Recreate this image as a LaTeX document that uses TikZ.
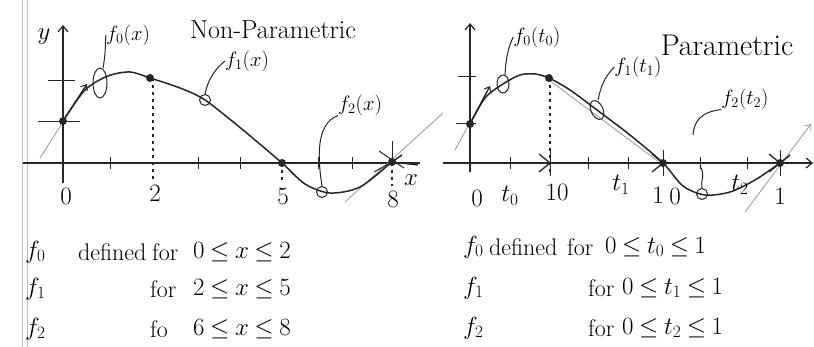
\documentclass[tikz,border=0pt]{standalone}
\usetikzlibrary{arrows.meta}
\begin{document}
\begin{tikzpicture}[x=1pt,y=-1pt,
  ax/.style={line width=1.3pt, black!85},
  tk/.style={line width=1pt, black!85},
  crv/.style={line width=1.5pt, black!85},
  dot/.style={circle, fill=black!85, inner sep=0pt, minimum size=8pt},
  mk/.style={circle, draw=black!85, line width=1pt, inner sep=0pt, minimum size=11pt},
  lead/.style={line width=1pt, black!85},
  tang/.style={line width=0.8pt, black!40},
  dsh/.style={line width=1.2pt, black!85, dash pattern=on 3pt off 4pt},
  lbl/.style={font=\fontsize{21}{23}\selectfont, inner sep=0pt},
  num/.style={font=\fontsize{25}{27}\selectfont, inner sep=0pt},
  txt/.style={font={\fontsize{24}{26}\selectfont\thickmuskip=4mu plus 2mu\relax}, inner sep=0pt, anchor=west},
  barb/.style={-{Straight Barb[length=6pt,width=10pt,line width=1.2pt]}}
]
\useasboundingbox (0,0) rectangle (814,347);
\fill[white] (0,0) rectangle (814,347);
% notebook margin
\draw[black!25, line width=0.6pt] (22,0) -- (22,347);
\draw[black!25, line width=0.6pt] (27,0) -- (27,347);

%================ LEFT: Non-Parametric ================
\coordinate (Lyb) at (63,183);
\coordinate (Lyt) at (63,25);
\coordinate (Lxa) at (23,163);
\coordinate (Lxb) at (420,163);
\draw[ax,barb] (Lyb) -- (Lyt);
\draw[ax] (Lxa) -- (Lxb);
\foreach \x in {110,198,240,318,352} \draw[tk] (\x,157) -- (\x,169);
\draw[tk] (48,81) -- (75,81);
\draw[tk] (38,122) -- (80,122);
\draw[dsh] (153,78) -- (153,182);
\draw[dsh] (282,163) -- (282,180);
\draw[dsh] (392,163) -- (392,186);

% tangents
\coordinate (Lt0) at (40,158);
\coordinate (Lt1) at (87,84);
\coordinate (Le0) at (345,202);
\coordinate (Le1) at (443,113);
\draw[tang] (Lt0) -- (Lt1);
\draw[tang] (Le0) -- (Le1);

\draw[crv] plot[smooth, tension=0.5] coordinates {(63,121) (85,90) (108,76) (130,72) (150,78) (180,88) (205,100) (243,130) (282,163) (305,184) (330,193) (360,187) (392,162) (402,155)};

\node[dot] (L0) at (63,121) {};
\node[dot] (L2) at (150,78) {};
\node[dot] (L5) at (282,163) {};
\node[dot] (L8) at (392,162) {};
\draw[ax,-{Straight Barb[length=5pt,width=8pt,line width=1pt]}] (L0) -- (Lt1);
% star strokes at L8
\draw[tk] (392,141) -- (392,166);
\draw[tk] (379,151) -- (404,168);
\draw[tk] (374,172) -- (L8);
\draw[ax] (L8) -- (418,165);

% markers and labels
\draw[lead] (100,83) ellipse [x radius=7, y radius=15];
\node[lbl] (f0x) at (128,35) {$f_0(x)$};
\draw[lead] (103,68) .. controls (106,52) and (105,44) .. (f0x.west);

\node[mk] (m1) at (205,100) {};
\node[lbl] (f1x) at (247,61) {$f_1(x)$};
\draw[lead] (m1.north) .. controls (208,80) and (214,70) .. (f1x.west);

\node[mk] (m2) at (322,192) {};
\node[lbl] (f2x) at (360,105) {$f_2(x)$};
\draw[lead] (m2.north) .. controls (318,160) and (315,124) .. (f2x.south west);

\node[lbl, font=\fontsize{26}{28}\selectfont] (npar) at (273,30) {Non-Parametric};
\node[lbl, font=\fontsize{26}{28}\selectfont] (ly) at (44,37) {$y$};
\node[lbl, font=\fontsize{24}{26}\selectfont] (lx) at (411,180) {$x$};
\node[num] (n0) at (66,196) {0};
\node[num] (n2) at (155,193) {2};
\node[num] (n5) at (283,196) {5};
\node[num] (n8) at (393,199) {8};

%================ RIGHT: Parametric ================
\coordinate (Ryb) at (470,172);
\coordinate (Ryt) at (470,23);
\coordinate (Rxa) at (443,163);
\coordinate (Rxb) at (813,163);
\draw[ax,barb] (Ryb) -- (Ryt);
\draw[ax,barb] (Rxa) -- (Rxb);
\foreach \x in {510,588,628,700,747} \draw[tk] (\x,157) -- (\x,169);
\draw[tk] (458,77) -- (476,77);
\draw[tk] (456,124) -- (476,124);
\draw[dsh] (550,78) -- (550,172);
% segment end marks
\foreach \x in {550,663,780} {
  \draw[ax] (\x-11,154) -- (\x,163) -- (\x-11,172);
  \draw[tk] (\x,150) -- (\x,176);
}

% tangents and chord
\coordinate (Rt0) at (455,150);
\coordinate (Rt1) at (490,86);
\coordinate (Re0) at (745,212);
\coordinate (Re1) at (811,124);
\draw[tang] (Rt0) -- (Rt1);
\draw[tang,-{Straight Barb[length=5pt,width=8pt]}] (Re0) -- (Re1);
\draw[tang] (549,80) -- (663,165);

\draw[crv] plot[smooth, tension=0.5] coordinates {(470,124) (485,98) (503,84) (520,75) (535,74) (549,78) (570,90) (597,110) (630,135) (663,163) (683,186) (705,195) (730,192) (755,180) (780,163) (790,155)};

\node[dot] (R0) at (470,124) {};
\node[dot] (R1) at (549,78) {};
\node[dot] (R2) at (663,163) {};
\node[dot] (R3) at (780,163) {};
\draw[ax,-{Straight Barb[length=5pt,width=8pt,line width=1pt]}] (R0) -- (Rt1);

\draw[lead] (503,84) ellipse [x radius=6, y radius=9];
\node[lbl] (f0t) at (537,37) {$f_0(t_0)$};
\draw[lead] (505,75) .. controls (506,58) and (508,48) .. (f0t.west);

\draw[lead, rotate around={25:(597,110)}] (597,110) ellipse [x radius=6, y radius=10];
\node[lbl] (f1t) at (638,67) {$f_1(t_1)$};
\draw[lead] (598,100) .. controls (601,86) and (604,78) .. (f1t.west);

\node[mk] (m5) at (702,194) {};
\draw[lead] (700,166) .. controls (706,175) and (700,182) .. (m5.north);
\node[lbl] (f2t) at (745,99) {$f_2(t_2)$};
\draw[lead] (f2t.south west) .. controls (700,112) and (694,122) .. (693,135);

\node[lbl, font=\fontsize{30}{32}\selectfont] (par) at (727,45) {Parametric};

\node[num] (r0) at (477,198) {0};
\node[num] (rt0) at (510,196) {$t_0$};
\node[num] (r10) at (557,192) {10};
\node[num] (rt1) at (621,185) {$t_1$};
\node[num] (r1a) at (658,195) {1};
\node[num] (r0b) at (675,196) {0};
\node[num] (rt2) at (740,185) {$t_2$};
\node[num] (r1b) at (780,196) {1};

%================ TEXT ================
\node[txt] (a1) at (25,252) {$f_0$};
\node[txt] (a2) at (78,252) {defined};
\node[txt] (a3) at (152,252) {for};
\node[txt] (a4) at (193,252) {$0\le x\le 2$};
\node[txt] (b1) at (25,289) {$f_1$};
\node[txt] (b3) at (150,289) {for};
\node[txt] (b4) at (193,289) {$2\le x\le 5$};
\node[txt] (c1) at (25,329) {$f_2$};
\node[txt] (c3) at (150,329) {fo};
\node[txt] (c4) at (193,329) {$6\le x\le 8$};

\node[txt] (d1) at (463,247) {$f_0$};
\node[txt] (d2) at (489,247) {defined};
\node[txt] (d3) at (567,247) {for};
\node[txt] (d4) at (605,247) {$0\le t_0\le 1$};
\node[txt] (e1) at (463,288) {$f_1$};
\node[txt] (e3) at (588,288) {for};
\node[txt] (e4) at (622,288) {$0\le t_1\le 1$};
\node[txt] (g1) at (463,328) {$f_2$};
\node[txt] (g3) at (588,328) {for};
\node[txt] (g4) at (622,328) {$0\le t_2\le 1$};
\end{tikzpicture}
\end{document}
